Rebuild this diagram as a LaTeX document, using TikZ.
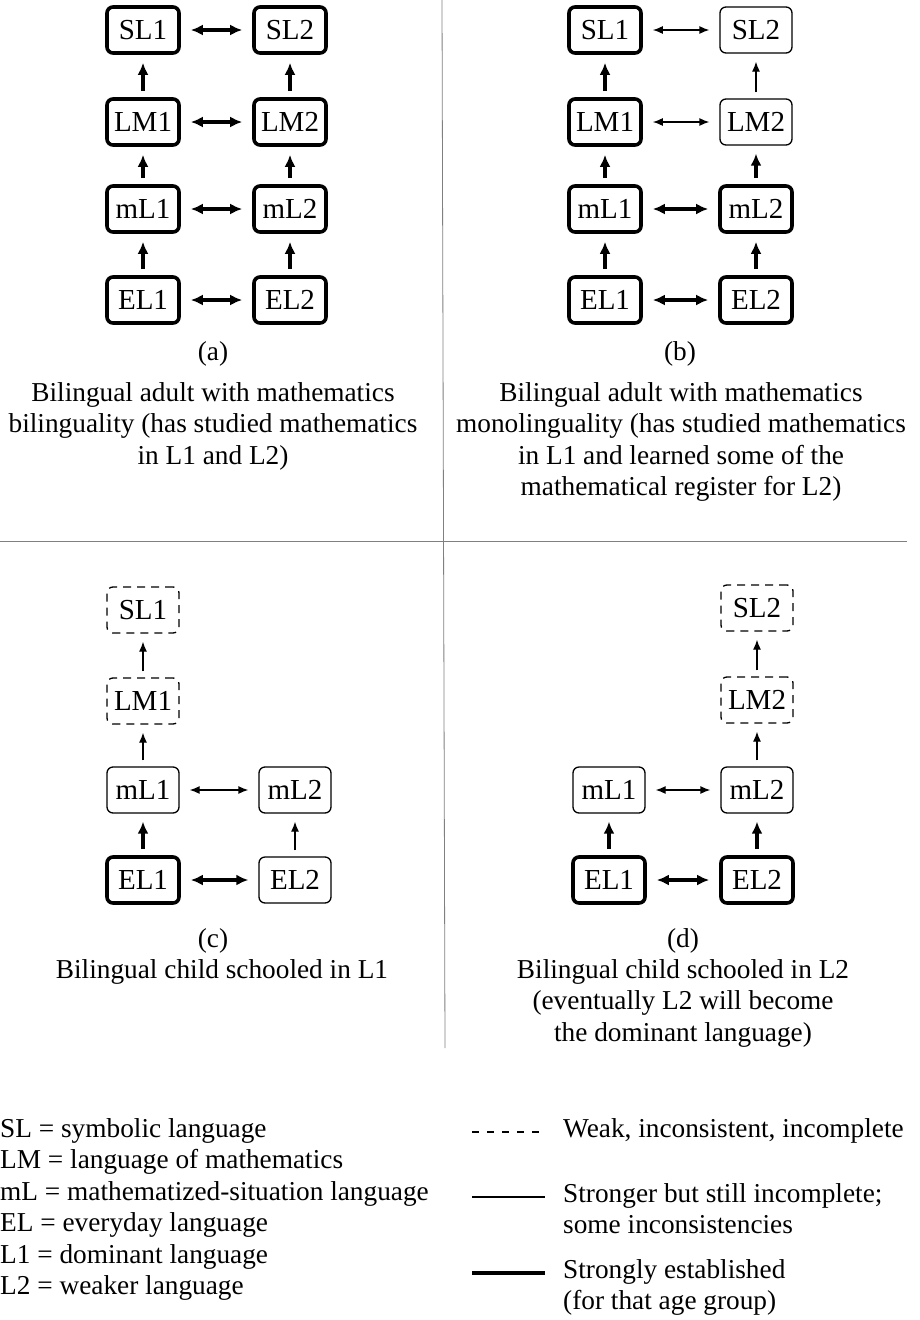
\documentclass[tikz,border=0pt]{standalone}
\usepackage{fontspec}
\setmainfont{Liberation Serif}
\usepackage{tikz}
\usetikzlibrary{arrows.meta,positioning}

\tikzset{
  lang/.style={draw, rounded corners=6pt, minimum width=72pt, minimum height=46pt, inner sep=0pt, font=\fontsize{29}{31.5}\selectfont},
  strong/.style={line width=3.6pt},
  fair/.style={line width=1.3pt},
  weak/.style={line width=1.3pt, dash pattern=on 8pt off 6pt},
  arr/.style={-{Latex[length=12pt,width=11pt]}, shorten <=6pt, shorten >=8pt},
  darr/.style={{Latex[length=12pt,width=11pt]}-{Latex[length=12pt,width=11pt]}, shorten <=10pt, shorten >=10pt},
  tarr/.style={-{Latex[length=10pt,width=8pt]}, shorten <=6pt, shorten >=8pt},
  tdarr/.style={{Latex[length=10pt,width=8pt]}-{Latex[length=10pt,width=8pt]}, shorten <=10pt, shorten >=10pt},
  caption/.style={align=center, inner sep=0pt, font=\fontsize{27.3}{31.5}\selectfont},
  legend/.style={align=left, inner sep=0pt, anchor=north west, font=\fontsize{27.3}{31.5}\selectfont},
  divider/.style={gray, line width=0.8pt}
}

\begin{document}
\begin{tikzpicture}[x=1pt, y=-1pt]
\useasboundingbox (0,0) rectangle (920,1320);

% dividers
\draw[divider] (442,0) -- (445,1048);
\draw[divider] (0,541) -- (907,541);

% Panel (a)
\node[lang, strong] (aSL1) at (143,30) {SL1};
\node[lang, strong] (aSL2) at (290,30) {SL2};
\node[lang, strong] (aLM1) at (143,122) {LM1};
\node[lang, strong] (aLM2) at (290,122) {LM2};
\node[lang, strong] (amL1) at (143,209) {mL1};
\node[lang, strong] (amL2) at (290,209) {mL2};
\node[lang, strong] (aEL1) at (143,300) {EL1};
\node[lang, strong] (aEL2) at (290,300) {EL2};
\draw[strong, darr] (aSL1) -- (aSL2);
\draw[strong, darr] (aLM1) -- (aLM2);
\draw[strong, darr] (amL1) -- (amL2);
\draw[strong, darr] (aEL1) -- (aEL2);
\draw[strong, arr] (aLM1) -- (aSL1);
\draw[strong, arr] (aLM2) -- (aSL2);
\draw[strong, arr] (amL1) -- (aLM1);
\draw[strong, arr] (amL2) -- (aLM2);
\draw[strong, arr] (aEL1) -- (amL1);
\draw[strong, arr] (aEL2) -- (amL2);
\node[caption, anchor=base] (aLab) at (213,360) {(a)};
\node[caption, anchor=north] (aCap) at (213,382) {Bilingual adult with mathematics\\bilinguality (has studied mathematics\\in L1 and L2)};

% Panel (b)
\node[lang, strong] (bSL1) at (605,30) {SL1};
\node[lang, fair] (bSL2) at (756,30) {SL2};
\node[lang, strong] (bLM1) at (605,122) {LM1};
\node[lang, fair] (bLM2) at (756,122) {LM2};
\node[lang, strong] (bmL1) at (605,209) {mL1};
\node[lang, strong] (bmL2) at (756,209) {mL2};
\node[lang, strong] (bEL1) at (605,300) {EL1};
\node[lang, strong] (bEL2) at (756,300) {EL2};
\draw[fair, tdarr] (bSL1) -- (bSL2);
\draw[fair, tdarr] (bLM1) -- (bLM2);
\draw[strong, darr] (bmL1) -- (bmL2);
\draw[strong, darr] (bEL1) -- (bEL2);
\draw[strong, arr] (bLM1) -- (bSL1);
\draw[fair, tarr] (bLM2) -- (bSL2);
\draw[strong, arr] (bmL1) -- (bLM1);
\draw[strong, arr] (bmL2) -- (bLM2);
\draw[strong, arr] (bEL1) -- (bmL1);
\draw[strong, arr] (bEL2) -- (bmL2);
\node[caption, anchor=base] (bLab) at (680,360) {(b)};
\node[caption, anchor=north] (bCap) at (681,382) {Bilingual adult with mathematics\\monolinguality (has studied mathematics\\in L1 and learned some of the\\mathematical register for L2)};

% Panel (c)
\node[lang, weak] (cSL1) at (143,610) {SL1};
\node[lang, weak] (cLM1) at (143,701) {LM1};
\node[lang, fair] (cmL1) at (143,790) {mL1};
\node[lang, fair] (cmL2) at (295,790) {mL2};
\node[lang, strong] (cEL1) at (143,880) {EL1};
\node[lang, fair] (cEL2) at (295,880) {EL2};
\draw[fair, tarr] (cLM1) -- (cSL1);
\draw[fair, tarr] (cmL1) -- (cLM1);
\draw[fair, tdarr] (cmL1) -- (cmL2);
\draw[strong, arr] (cEL1) -- (cmL1);
\draw[fair, tarr] (cEL2) -- (cmL2);
\draw[strong, darr] (cEL1) -- (cEL2);
\node[caption, anchor=base] (cLab) at (213,947) {(c)};
\node[caption, anchor=north] (cCap) at (222,959) {Bilingual child schooled in L1};

% Panel (d)
\node[lang, weak] (dSL2) at (757,608) {SL2};
\node[lang, weak] (dLM2) at (757,700) {LM2};
\node[lang, fair] (dmL1) at (609,790) {mL1};
\node[lang, fair] (dmL2) at (757,790) {mL2};
\node[lang, strong] (dEL1) at (609,880) {EL1};
\node[lang, strong] (dEL2) at (757,880) {EL2};
\draw[fair, tarr] (dLM2) -- (dSL2);
\draw[fair, tarr] (dmL2) -- (dLM2);
\draw[fair, tdarr] (dmL1) -- (dmL2);
\draw[strong, arr] (dEL1) -- (dmL1);
\draw[strong, arr] (dEL2) -- (dmL2);
\draw[strong, darr] (dEL1) -- (dEL2);
\node[caption, anchor=base] (dLab) at (683,947) {(d)};
\node[caption, anchor=north] (dCap) at (683,959) {Bilingual child schooled in L2\\(eventually L2 will become\\the dominant language)};

% Legend
\node[legend] (abbr) at (0,1118) {SL = symbolic language\\LM = language of mathematics\\mL = mathematized-situation language\\EL = everyday language\\L1 = dominant language\\L2 = weaker language};
\coordinate (wkA) at (472,1132);
\coordinate (wkB) at (540,1132);
\coordinate (frA) at (472,1197);
\coordinate (frB) at (545,1197);
\coordinate (stA) at (472,1273);
\coordinate (stB) at (545,1273);
\draw[weak, dash pattern=on 7pt off 8pt] (wkA) -- (wkB);
\draw[fair] (frA) -- (frB);
\draw[strong] (stA) -- (stB);
\node[legend] (wkTxt) at (563,1118) {Weak, inconsistent, incomplete};
\node[legend] (frTxt) at (563,1183) {Stronger but still incomplete;\\some inconsistencies};
\node[legend] (stTxt) at (563,1259) {Strongly established\\(for that age group)};
\end{tikzpicture}
\end{document}
